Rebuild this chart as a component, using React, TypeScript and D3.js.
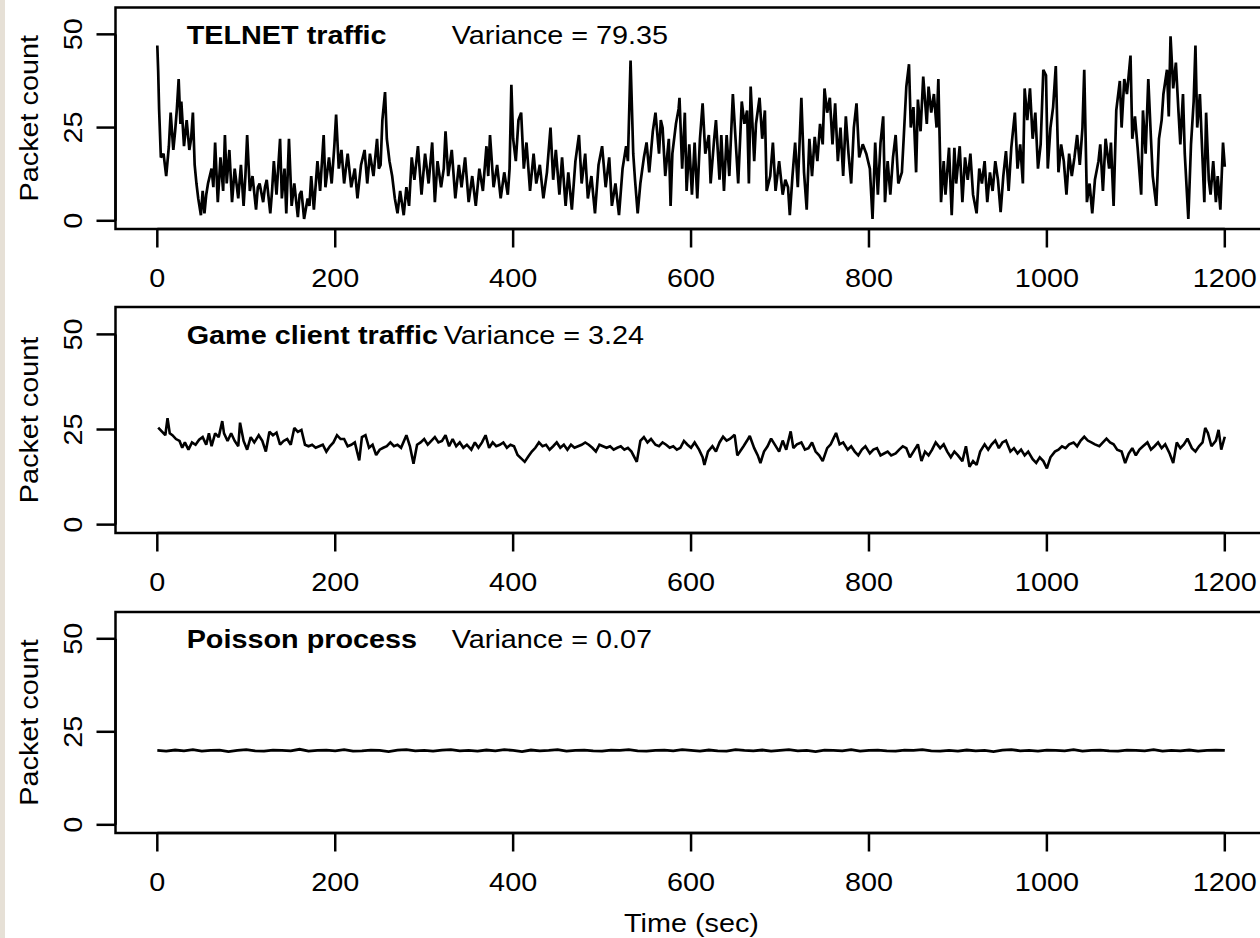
import React from "react";
import * as d3 from "d3";

// ---------- data ----------
const xTicks = [0, 200, 400, 600, 800, 1000, 1200];
const yTicks = [0, 25, 50];

const telnet: [number, number][] = [
  [0,47],[1,40],[2,30],[4,17],[7,18],[10,12],[13,20],[15,29],[18,19],[20,24],[22,30],[24,38],[26,26],[27,32],[30,20],[33,27],[36,19],[38,22],[40,29],[42,15],[44,10],[46,6],[49,1.5],[51,8],[53,2],[55,7],[57,10],[61,14],[63,9],[65,21],[68,5],[71,17],[74,8],[76,23],[78,10],[81,19],[84,5],[87,14],[91,6],[94,15],[97,4],[99,12],[101,23],[104,8],[107,12],[111,3],[113,9],[115,10],[119,5],[121,9],[123,11],[127,2],[129,8],[131,16],[134,7],[138,22],[140,6],[143,14],[145,2],[148,22],[151,4],[154,10],[158,1],[160,7],[162,8],[165,0.5],[169,6],[171,4],[173,12],[176,3],[180,16],[183,8],[187,23],[189,9],[193,17],[196,10],[199,20],[201,28.5],[204,14],[207,19],[210,10],[214,18],[218,9],[222,14],[225,6],[229,15],[233,19],[236,10],[239,18],[243,12],[247,22],[249,14],[251,15],[253,27],[256,34.5],[258,22],[261,16],[264,12],[267,6],[270,2],[273,8],[277,1.5],[280,9],[283,4],[286,17],[289,11],[293,20],[297,7],[301,18],[305,10],[309,21],[312,5],[315,16],[319,9],[322,14],[324,24],[327,12],[331,19],[335,6],[339,15],[342,9],[346,17],[350,5],[354,12],[358,4],[362,14],[366,8],[370,20],[372,12],[374,23],[378,9],[382,15],[386,6],[390,13],[394,7],[396,14],[398,36.5],[400,22],[403,16],[406,27],[409,29],[412,14],[415,21],[419,8],[423,18],[426,10],[430,15],[434,6],[438,13],[442,25],[445,11],[448,19],[452,7],[455,17],[459,4],[462,13],[466,3],[470,16],[474,23],[477,10],[481,18],[484,6],[488,12],[492,2],[496,15],[500,20],[504,9],[508,17],[511,4],[515,10],[519,1.5],[523,14],[527,20],[529,16],[532,43],[535,18],[537,11],[540,2],[543,10],[547,17],[550,21],[553,13],[557,24],[560,29],[564,18],[566,27],[568,25],[571,12],[575,22],[577,4],[579,18],[583,26],[586,30],[587,33],
  [590,14],[593,29],[595,8],[598,20.5],[601,7],[604,21],[607,6],[610,22],[613,31.5],[616,18],[620,23],[622,10],[626,22],[628,27],[632,11],[634,23],[637,8],[640,23],[643,12],[647,34],[651,18],[653,10],[657,32],[660,26],[663,29.6],[665,10],[667,36],[671,16],[673,26],[677,33],[680,22],[683,29.6],[685,8],[689,12],[692,21],[695,8],[699,16],[703,7],[706,11],[709,9],[711,1.5],[714,12],[717,21],[720,9],[724,33],[727,13],[730,3],[733,22],[736,12],[739,22.5],[742,16],[745,26],[748,20.5],[750,35.5],[753,29],[756,33],[759,20.5],[762,31.5],[765,16],[768,25],[771,12],[774,28],[777,18],[780,10],[783,25],[786,31.5],[789,17],[793,20.5],[797,18],[801,14],[804,0.5],[807,21],[810,7],[813,21],[816,28],[818,5],[821,16],[824,7],[827,17],[830,23],[833,10],[837,13],[839,22],[842,36],[845,42],[847,25],[850,30.5],[853,13],[855,32.5],[858,24],[861,38.7],[865,26],[867,36],[870,29],[873,34],[876,25],[878,38],[881,5],[884,16],[886,7],[890,19.6],[893,1.5],[896,19.6],[898,10],[902,20],[905,5],[908,17],[911,11],[914,18],[917,7],[921,2],[924,14],[927,10],[930,16],[933,5],[936,13],[939,8],[942,16],[945,11],[948,2.3],[951,12],[954,18.7],[957,8],[960,19.6],[964,29],[967,14],[970,20.5],[973,10],[975,35.5],[978,27],[981,35.5],[984,22],[987,29],[990,14],[993,20.5],[996,40.5],[999,39],[1001,14],[1004,25],[1007,30.5],[1010,41.5],[1013,13],[1016,20.5],[1019,16],[1022,7],[1025,18],[1028,12],[1031,17],[1034,23],[1037,15],[1040,25],[1042,40.5],[1045,5],[1048,10],[1051,2],[1054,11],[1058,16],[1060,20.5],[1063,8],[1066,22],[1070,14],[1072,21],[1075,4],[1078,29.6],[1082,37.5],[1084,25],[1087,38],[1090,34],[1094,44.3],[1096,22],[1099,28],[1102,19.6],[1106,7],[1108,29.6],[1111,18],[1114,38],[1117,22],[1119,12],[1123,4],[1126,22],[1129,27],[1131,34],[1135,40.5],[1137,28],[1139,49.5],[1142,35.5],[1145,42.4],[1148,29],[1150,20.5],[1153,34],[1155,18],[1159,0.5],[1162,20.5],[1165,32],[1167,47],[1169,25],[1172,34],[1174,22],[1177,5],[1179,29],[1182,11],[1184,7],[1187,16],[1190,5],[1192,12],[1195,3],[1198,21],[1200,14.5]
];

const game: [number, number][] = [
  [1,25.5],[5,24.5],[9,23.5],[11.5,28],[14,24],[17,23.5],[21,22.5],[25,22],[28,20.2],[31,21.6],[35,19.7],[39,21.6],[43,21],[47,22.3],[51,23],[55,21],[58,24],[61,20.6],[65,24],[69,23],[73,27.2],[75,24],[79,22],[83,24],[87,22],[91,20.6],[93,26.8],[97,22],[101,19.7],[105,23],[109,21.6],[114,23.5],[118,22],[122,19.2],[126,24.4],[130,23.5],[134,24.2],[138,21],[142,22],[146,22.5],[150,21],[154,25.4],[158,24.4],[162,24.9],[166,21],[170,20.6],[174,21],[178,20.2],[182,20.6],[186,21],[190,19.2],[194,20.6],[198,21.6],[202,23.5],[206,22.5],[210,22.5],[214,20.6],[218,21],[222,21.6],[227,16.9],[230,23],[234,23.5],[238,20.2],[242,21],[246,18.3],[250,19.7],[254,20.2],[258,20.6],[262,21.6],[266,20.6],[270,21],[274,20.2],[280,23.5],[284,20.6],[288,16],[292,21],[296,21.6],[300,22.5],[304,21],[308,22],[312,23],[316,21.6],[320,22],[324,23.5],[328,20.6],[332,22.5],[336,20.6],[340,21.6],[344,20.2],[348,21],[353,19.7],[357,21.6],[361,20.2],[365,21.6],[369,23.5],[373,20.2],[377,21.6],[381,20.6],[385,21],[389,21.6],[393,20.2],[397,21],[401,20.6],[405,18.3],[409,17.4],[413,16.5],[417,17.9],[421,19.2],[425,20.2],[429,21.6],[433,20.6],[437,21],[441,19.7],[445,20.6],[449,21.6],[453,20.2],[457,21],[461,19.7],[465,21],[469,20.2],[473,20.6],[477,21],[481,21.6],[485,21],[489,20.2],[493,19.2],[497,21],[501,20.6],[505,20.2],[509,20.6],[513,19.7],[517,20.2],[521,20.6],[525,19.7],[529,20.2],[533,19.2],[539,16.5],[543,22],[547,23],[551,21.6],[555,22.5],[560,21],[564,20.6],[568,21.6],[572,21],[576,20.2],[580,20.6],[584,19.7],[588,20.2],[592,22],[596,21],[600,20.2],[604,21.6],
  [609,19.7],[613,17.7],[615,15.7],[619,19.2],[624,20.6],[628,19.2],[632,21.6],[636,23.1],[640,22.1],[644,22.6],[649,23.6],[652,18.2],[655,19.2],[659,20.6],[663,22.1],[666,23.3],[671,20.1],[675,18.2],[678,16.2],[682,19.2],[686,20.6],[690,22.6],[694,21.1],[699,19.2],[703,22.1],[707,19.7],[712,24.5],[715,20.1],[719,21.1],[724,21.6],[728,19.7],[732,20.1],[736,21.6],[740,19.2],[744,18.2],[748,16.7],[753,20.1],[757,21.1],[760,22.6],[763,24.1],[767,21.1],[771,21.6],[776,19.7],[780,20.6],[784,19.2],[788,18.2],[792,19.7],[796,20.6],[801,18.7],[805,19.7],[809,20.1],[813,18.2],[817,18.7],[821,19.2],[825,18.2],[830,18.7],[834,19.7],[838,20.6],[842,20.1],[846,17.7],[850,19.2],[855,21.1],[859,16.7],[863,19.2],[867,18.2],[871,19.7],[875,21.6],[880,20.1],[884,21.1],[888,19.2],[892,17.7],[896,19.2],[900,18.2],[905,16.7],[909,20.6],[913,15.2],[917,16.7],[921,15.7],[925,19.2],[930,21.1],[934,19.7],[938,21.1],[942,22.1],[946,20.1],[950,21.6],[954,22.1],[959,19.2],[963,20.1],[967,18.7],[971,19.7],[975,18.2],[979,19.2],[984,17.2],[988,16.2],[992,17.7],[996,16.7],[1000,14.8],[1004,17.7],[1009,19.2],[1013,19.7],[1017,20.6],[1021,20.1],[1025,21.1],[1030,21.6],[1034,20.6],[1038,22.1],[1042,23.1],[1046,22.1],[1050,21.6],[1054,21.1],[1059,20.6],[1063,21.6],[1067,22.6],[1071,21.6],[1075,21.1],[1079,19.7],[1084,19.2],[1088,16.2],[1092,18.7],[1096,20.1],[1100,18.2],[1104,19.7],[1108,20.6],[1113,21.6],[1117,19.7],[1121,20.6],[1125,21.6],[1129,20.1],[1133,21.1],[1138,18.7],[1142,16.2],[1146,21.6],[1150,20.1],[1154,21.1],[1158,22.6],[1163,20.1],[1167,19.2],[1171,20.6],[1175,21.6],[1178,25.4],[1181,24.1],[1185,20.6],[1190,22.1],[1193,24.9],[1196,19.7],[1200,23.1]
];

const poissonStepSec = 10;
const poissonCounts = [
  20.0,19.8,20.1,19.9,20.2,19.8,20.0,20.1,19.7,20.0,
  20.2,19.9,19.8,20.1,20.0,19.9,20.3,19.8,20.0,20.1,
  19.9,20.2,19.8,19.9,20.1,20.0,19.7,20.1,20.2,19.9,
  20.0,19.8,20.1,20.2,19.9,20.0,19.8,20.1,19.9,20.2,
  20.0,19.7,20.1,19.9,20.0,20.2,19.8,20.0,20.1,19.9,
  19.8,20.1,20.0,20.2,19.9,19.8,20.0,20.1,19.9,20.2,
  20.0,19.8,20.1,19.9,19.8,20.2,20.0,19.9,20.1,19.8,
  20.0,20.2,19.9,20.0,19.7,20.1,20.0,19.9,20.2,19.8,
  20.0,20.1,19.9,19.8,20.1,20.0,20.2,19.9,19.8,20.0,
  19.8,20.1,19.9,20.0,19.7,20.1,20.2,19.9,20.0,19.8,
  20.1,20.0,19.9,20.2,19.8,20.0,20.1,19.9,19.8,20.1,
  20.0,19.9,20.2,19.8,20.0,19.9,20.1,19.8,20.0,20.1,
  20.0
];
const poisson: [number, number][] = poissonCounts.map((v, i) => [i * poissonStepSec, v]);

const titles = ["TELNET traffic", "Game client traffic", "Poisson process"];
const varianceLabels = ["Variance = 79.35", "Variance = 3.24", "Variance = 0.07"];
const seriesList = [telnet, game, poisson];
const seriesWidths = [2.7, 2.6, 2.8];

// ---------- layout ----------
const W = 1260;
const H = 938;
const plotLeft = 115.5;
const plotRight = 1267.5;
const panelTops = [7.5, 307, 612];
const panelBottoms = [229, 533, 833];
const titleT = 33;
const varianceT = [331, 322, 331];
const FONT = "'Liberation Sans', Arial, Helvetica, sans-serif";
const FS = 25.5;
const SX = 1.13;

export default function App() {
  const x = d3.scaleLinear().domain([-47, 1248]).range([plotLeft, plotRight]);
  return (
    <svg
      width={W}
      height={H}
      viewBox={`0 0 ${W} ${H}`}
      style={{ position: "absolute", left: 0, top: 0, display: "block", background: "#ffffff" }}
      fontFamily={FONT}
    >
      <rect x={0} y={0} width={W} height={H} fill="#ffffff" />
      <rect x={0} y={0} width={5} height={H} fill="#e6e0d6" />
      {seriesList.map((data, p) => {
        const top = panelTops[p];
        const bottom = panelBottoms[p];
        const y = d3.scaleLinear().domain([-2.2, 57.2]).range([bottom, top]);
        const line = d3
          .line<[number, number]>()
          .x((d) => x(d[0]))
          .y((d) => y(d[1]));
        const mid = (top + bottom) / 2;
        return (
          <g key={p}>
            <defs>
              <clipPath id={`clip${p}`}>
                <rect x={plotLeft} y={top} width={W - plotLeft + 20} height={bottom - top} />
              </clipPath>
            </defs>
            <path
              d={line(data) || ""}
              fill="none"
              stroke="#000"
              strokeWidth={seriesWidths[p]}
              strokeLinejoin="miter"
              strokeMiterlimit={2}
              clipPath={`url(#clip${p})`}
            />
            {/* box */}
            <rect
              x={plotLeft}
              y={top}
              width={plotRight - plotLeft}
              height={bottom - top}
              fill="none"
              stroke="#000"
              strokeWidth={2.5}
            />
            {/* y axis */}
            {yTicks.map((t) => (
              <g key={`y${t}`}>
                <line x1={plotLeft - 19} x2={plotLeft} y1={y(t)} y2={y(t)} stroke="#000" strokeWidth={2.5} />
                <text
                  transform={`translate(82,${y(t)}) rotate(-90) scale(${SX},1)`}
                  textAnchor="middle"
                  fontSize={FS}
                  fill="#000"
                >
                  {t}
                </text>
              </g>
            ))}
            <line x1={plotLeft} x2={plotLeft} y1={y(0)} y2={y(50)} stroke="#000" strokeWidth={2.5} />
            <text
              transform={`translate(38,${mid}) rotate(-90) scale(${SX},1)`}
              textAnchor="middle"
              fontSize={FS}
              fill="#000"
            >
              Packet count
            </text>
            {/* x axis */}
            <line x1={x(0)} x2={x(1200)} y1={bottom} y2={bottom} stroke="#000" strokeWidth={2.5} />
            {xTicks.map((t) => (
              <g key={`x${t}`}>
                <line x1={x(t)} x2={x(t)} y1={bottom} y2={bottom + 18.5} stroke="#000" strokeWidth={2.5} />
                <text
                  transform={`translate(${x(t)},${bottom + 57.5}) scale(${SX},1)`}
                  textAnchor="middle"
                  fontSize={FS}
                  fill="#000"
                >
                  {t}
                </text>
              </g>
            ))}
            {/* labels inside */}
            <text
              transform={`translate(${x(titleT)},${y(50) + 9.5}) scale(${SX},1)`}
              fontSize={FS}
              fontWeight="bold"
              fill="#000"
            >
              {titles[p]}
            </text>
            <text
              transform={`translate(${x(varianceT[p])},${y(50) + 9.5}) scale(${SX},1)`}
              fontSize={FS}
              fill="#000"
            >
              {varianceLabels[p]}
            </text>
          </g>
        );
      })}
      <text
        transform={`translate(${(plotLeft + plotRight) / 2},932) scale(${SX},1)`}
        textAnchor="middle"
        fontSize={FS}
        fill="#000"
      >
        Time (sec)
      </text>
    </svg>
  );
}
